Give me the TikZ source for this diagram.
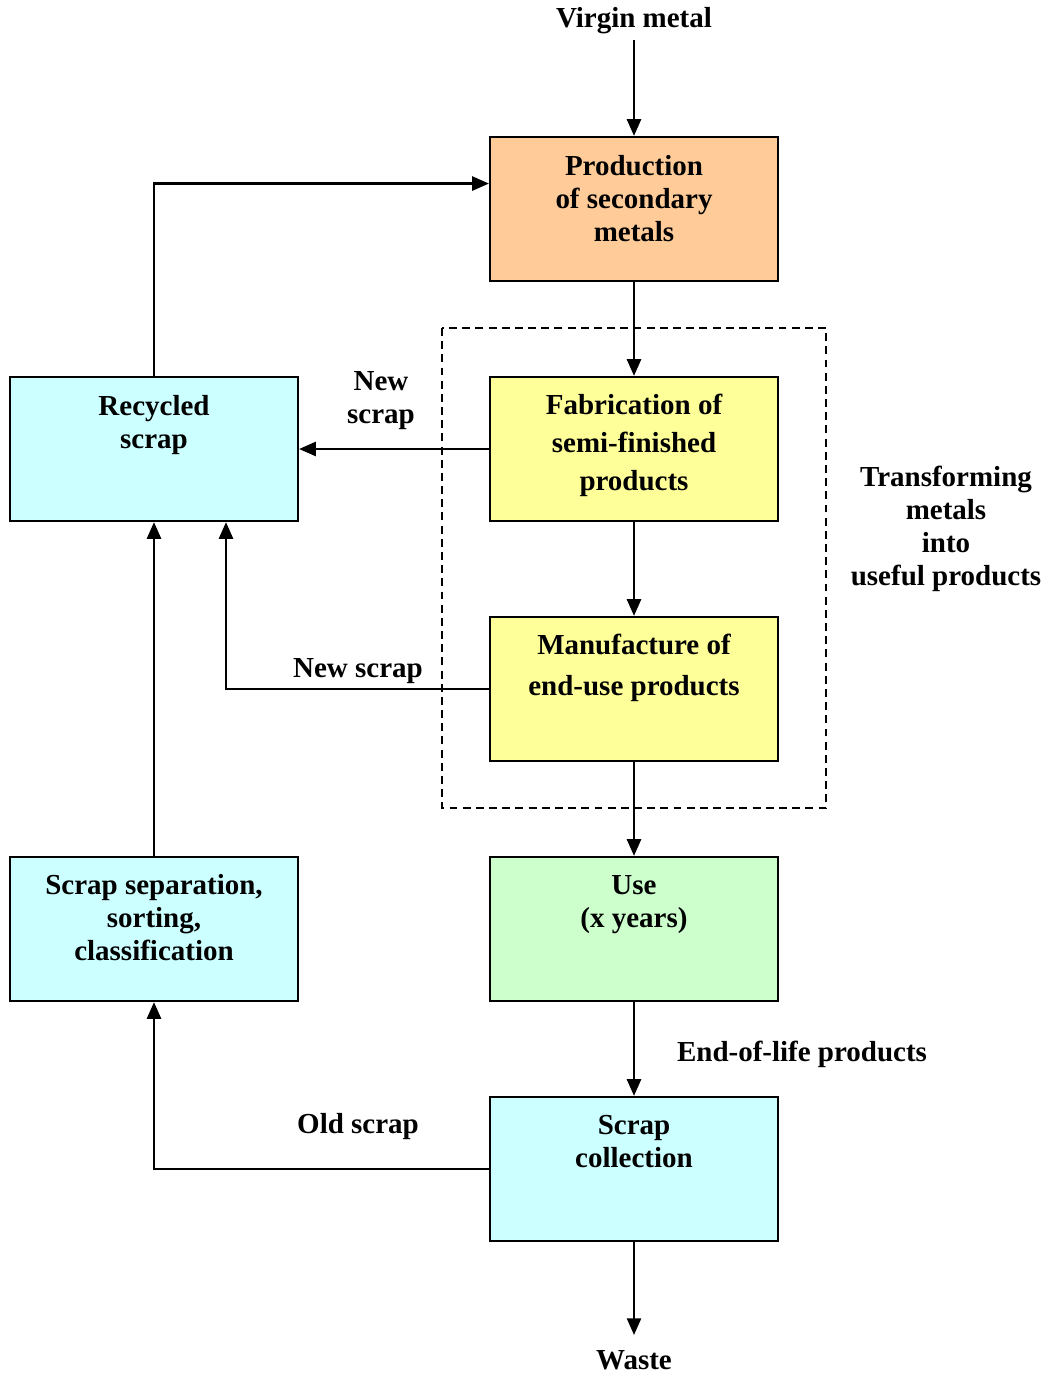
\documentclass[tikz,border=0pt]{standalone}
\usepackage{fontspec}
\setmainfont{Liberation Serif}
\usetikzlibrary{arrows.meta,calc}
\definecolor{prodfill}{HTML}{FFCC99}
\definecolor{scrapfill}{HTML}{CCFFFF}
\definecolor{fabfill}{HTML}{FFFF99}
\definecolor{usefill}{HTML}{CCFFCC}
\tikzset{
	box/.style={draw, line width=1.3pt, inner sep=0pt, minimum width=5.76cm, minimum height=2.88cm},
	boxtext/.style={anchor=north, inner sep=0pt, align=center, font=\bfseries\fontsize{16.5}{18.8}\selectfont},
	lbl/.style={inner sep=0pt, align=center, font=\bfseries\fontsize{16.5}{18.8}\selectfont},
	flow/.style={line width=1.3pt, -{Triangle[length=9.5pt,width=8pt]}},
}
\newcommand{\firstline}{\rule{0pt}{13pt}}
\begin{document}
\begin{tikzpicture}[x=0.02cm,y=-0.02cm]
		\useasboundingbox (0,0) rectangle (1045,1375);
		\node[box, fill=prodfill] (prod) at (634,209) {};
		\node[box, fill=scrapfill] (rec) at (154,449) {};
		\node[box, fill=fabfill] (fab) at (634,449) {};
		\node[box, fill=fabfill] (manu) at (634,689) {};
		\node[box, fill=scrapfill] (sep) at (154,929) {};
		\node[box, fill=usefill] (use) at (634,929) {};
		\node[box, fill=scrapfill] (coll) at (634,1169) {};
		\node[boxtext] (prodtxt) at (634,152) {\firstline Production\\of secondary\\metals};
		\node[boxtext] (rectxt) at (154,392) {\firstline Recycled\\scrap};
		\node[boxtext] (fabtxt) at (634,391) {\firstline Fabrication of\\[2.8pt]semi-finished\\[2.8pt]products};
		\node[boxtext] (manutxt) at (634,631) {\firstline Manufacture of\\[4.5pt]end-use products};
		\node[boxtext] (septxt) at (154,871) {\firstline Scrap separation,\\sorting,\\classification};
		\node[boxtext] (usetxt) at (634,871) {\firstline Use\\(x years)};
		\node[boxtext] (colltxt) at (634,1111) {\firstline Scrap\\collection};
		\node[lbl, anchor=base] (virgin) at (634,28) {Virgin metal};
		\node[lbl, anchor=base] (waste) at (634,1369) {Waste};
		\node[lbl, anchor=north] (newscrapa) at (381,367) {\firstline New\\scrap};
		\node[lbl, anchor=base] (newscrapb) at (358,677) {New scrap};
		\node[lbl, anchor=base] (oldscrap) at (358,1133) {Old scrap};
		\node[lbl, anchor=base] (eol) at (802,1061) {End-of-life products};
		\node[lbl, anchor=north] (transf) at (946,463) {\firstline Transforming\\metals\\into\\useful products};
		\coordinate (vtop) at (634,40);
		\coordinate (wbot) at (634,1335);
		\draw[line width=1pt, dash pattern=on 4.5pt off 3pt] (442,328) rectangle (826,808);
		\draw[flow] (vtop) -- (prod.north);
		\draw[flow] (prod.south) -- (fab.north);
		\draw[flow] (fab.south) -- (manu.north);
		\draw[flow] (manu.south) -- (use.north);
		\draw[flow] (use.south) -- (coll.north);
		\draw[flow] (coll.south) -- (wbot);
		\draw[flow] (rec.north) |- ($(prod.north west)!0.326!(prod.south west)$);
		\draw[flow] (fab.west) -- (rec.east);
		\draw[flow] (manu.west) -| ($(rec.south)+(72,0)$);
		\draw[flow] (sep.north) -- (rec.south);
		\draw[flow] (coll.west) -| (sep.south);
\end{tikzpicture}
\end{document}
